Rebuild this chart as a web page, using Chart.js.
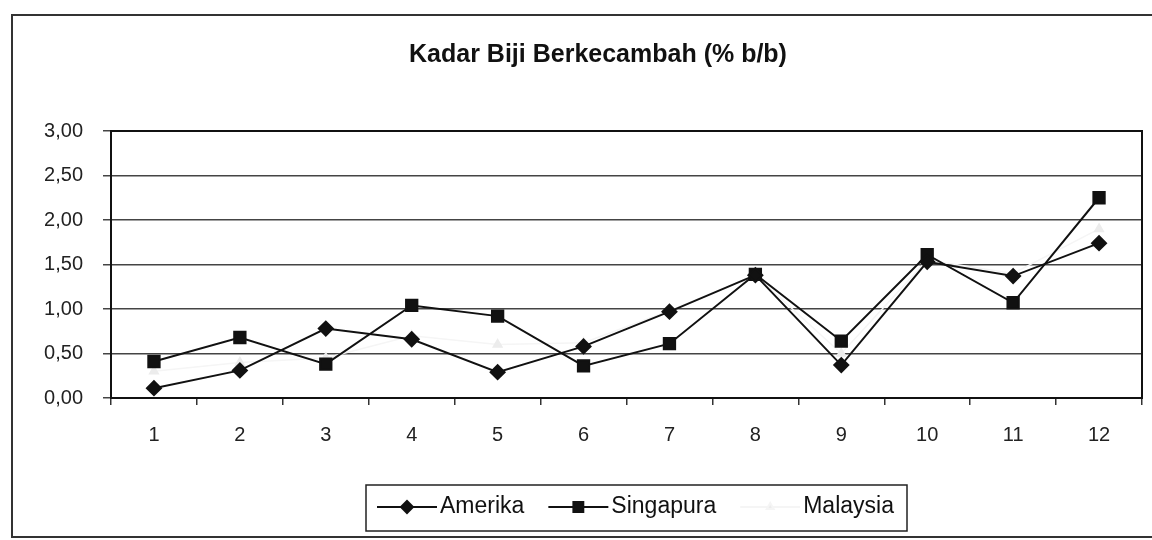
<!DOCTYPE html>
<html>
<head>
<meta charset="utf-8">
<script src="https://cdn.jsdelivr.net/npm/chart.js@4.4.1/dist/chart.umd.min.js"></script>
<style>
  html, body { margin: 0; padding: 0; background: #fff; }
</style>
</head>
<body>
<canvas id="chart" width="1152" height="540"></canvas>
<script>
// data
var categories = ['1', '2', '3', '4', '5', '6', '7', '8', '9', '10', '11', '12'];
var amerika = [0.11, 0.31, 0.78, 0.66, 0.29, 0.58, 0.97, 1.38, 0.37, 1.53, 1.37, 1.74];
var singapura = [0.41, 0.68, 0.38, 1.04, 0.92, 0.36, 0.61, 1.39, 0.64, 1.61, 1.07, 2.25];
var malaysia = [0.30, 0.40, 0.45, 0.70, 0.60, 0.62, 0.98, 1.38, 0.50, 1.55, 1.40, 1.90];
var yTicks = [0, 0.5, 1, 1.5, 2, 2.5, 3];
var titleText = 'Kadar Biji Berkecambah (% b/b)';

var FONT = "'Liberation Sans', Arial, sans-serif";

// white page, outer frame, title, plot border and the boxed legend
var framePlugin = {
  id: 'frame',
  beforeDraw: function (chart) {
    var ctx = chart.ctx;
    ctx.save();
    ctx.fillStyle = '#fff';
    ctx.fillRect(0, 0, chart.width, chart.height);
    ctx.strokeStyle = '#333';
    ctx.lineWidth = 2;
    ctx.strokeRect(12, 15, chart.width + 20, 522);
    // title
    ctx.fillStyle = '#111';
    ctx.font = 'bold 25px ' + FONT;
    ctx.textAlign = 'center';
    ctx.textBaseline = 'middle';
    ctx.fillText(titleText, 598, 55);
    ctx.restore();
  },
  afterDraw: function (chart) {
    var ctx = chart.ctx;
    var a = chart.chartArea;
    ctx.save();
    ctx.strokeStyle = '#111';
    ctx.lineWidth = 2;
    ctx.strokeRect(a.left, a.top, a.right - a.left, a.bottom - a.top);

    // legend
    ctx.lineWidth = 1.5;
    ctx.strokeStyle = '#222';
    ctx.strokeRect(366, 485, 541, 46);
    ctx.font = '23px ' + FONT;
    ctx.textBaseline = 'middle';
    var x = 377, y = 507;
    chart.data.datasets.forEach(function (ds) {
      ctx.strokeStyle = ds.borderColor;
      ctx.fillStyle = ds.pointBackgroundColor;
      ctx.lineWidth = 2;
      ctx.beginPath();
      ctx.moveTo(x, y);
      ctx.lineTo(x + 60, y);
      ctx.stroke();
      Chart.helpers.drawPoint(ctx, {
        pointStyle: ds.pointStyle, radius: ds.pointRadius - 1, rotation: 0, borderWidth: 1
      }, x + 30, y);
      ctx.fillStyle = '#111';
      ctx.fillText(ds.label, x + 63, y);
      x += 63 + ctx.measureText(ds.label).width + 24;
    });
    ctx.restore();
  }
};

new Chart(document.getElementById('chart'), {
  type: 'line',
  data: {
    labels: categories,
    datasets: [
      {
        label: 'Amerika', data: amerika,
        borderColor: '#111', backgroundColor: '#111', borderWidth: 2,
        pointStyle: 'rectRot', pointRadius: 7, pointBackgroundColor: '#111', pointBorderColor: '#111'
      },
      {
        label: 'Singapura', data: singapura,
        borderColor: '#111', backgroundColor: '#111', borderWidth: 2,
        pointStyle: 'rect', pointRadius: 8, pointBackgroundColor: '#111', pointBorderColor: '#111'
      },
      {
        label: 'Malaysia', data: malaysia,
        borderColor: '#f5f5f5', backgroundColor: '#f5f5f5', borderWidth: 1.5,
        pointStyle: 'triangle', pointRadius: 5, pointBackgroundColor: '#ececec', pointBorderColor: '#ececec'
      }
    ]
  },
  options: {
    responsive: false,
    animation: false,
    devicePixelRatio: 1,
    layout: { padding: { left: 12, right: 8, top: 131, bottom: 75 } },
    plugins: {
      legend: { display: false },
      tooltip: { enabled: false },
      title: { display: false }
    },
    scales: {
      x: {
        offset: true,
        grid: { offset: true, drawOnChartArea: false, drawTicks: true, tickLength: 7, color: '#333', lineWidth: 1.5 },
        border: { display: true, color: '#111', width: 2 },
        ticks: { color: '#222', font: { family: FONT, size: 20 }, padding: 18, maxRotation: 0 }
      },
      y: {
        min: 0,
        max: 3,
        afterBuildTicks: function (axis) {
          axis.ticks = yTicks.map(function (v) { return { value: v }; });
        },
        afterFit: function (axis) { axis.width = 99; },
        grid: { color: '#444', lineWidth: 1.5, tickLength: 8 },
        border: { display: true, color: '#111', width: 2 },
        ticks: {
          color: '#222',
          font: { family: FONT, size: 20 },
          padding: 20,
          callback: function (v) { return Number(v).toFixed(2).replace('.', ','); }
        }
      }
    }
  },
  plugins: [framePlugin]
});
</script>
</body>
</html>
